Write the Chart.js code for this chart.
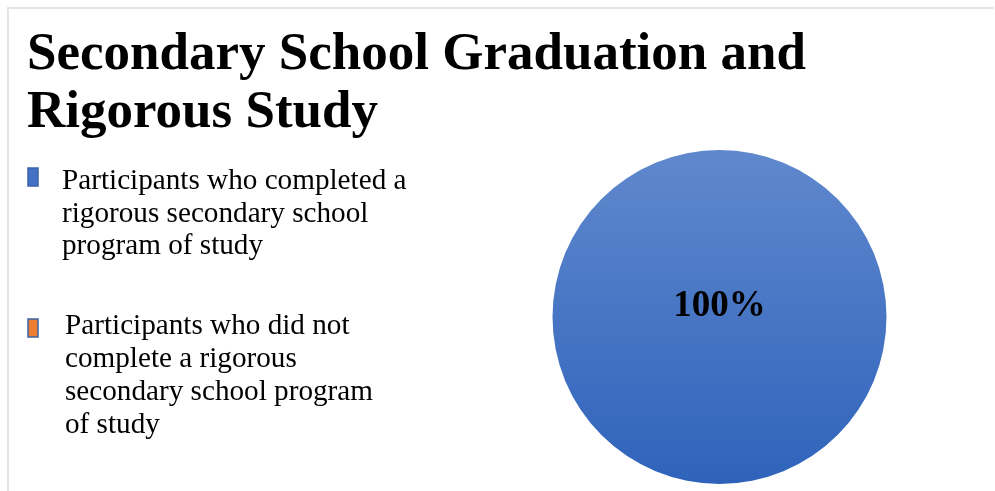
<!DOCTYPE html>
<html>
<head>
<meta charset="utf-8">
<title>Secondary School Graduation and Rigorous Study</title>
<script src="https://cdn.jsdelivr.net/npm/chart.js@4/dist/chart.umd.min.js"></script>
<style>
  html, body { margin: 0; padding: 0; background: #ffffff; }
  #wrap { position: relative; width: 995px; height: 491px; }
</style>
</head>
<body>
<div id="wrap"><canvas id="chart" width="995" height="491"></canvas></div>
<script>
// Chart content
const chartTitle = ['Secondary School Graduation and', 'Rigorous Study'];
const categories = [
  ['Participants who completed a', 'rigorous secondary school', 'program of study'],
  ['Participants who did not', 'complete a rigorous', 'secondary school program', 'of study']
];
const shares = [100, 0];
const sliceColors = ['#4472c4', '#ed7d31'];

const serif = '"Liberation Serif", "Times New Roman", serif';

// Frame, title and side legend drawn on the canvas around the pie
const decorations = {
  id: 'decorations',
  beforeDraw(chart) {
    const ctx = chart.ctx;
    ctx.save();
    ctx.fillStyle = '#ffffff';
    ctx.fillRect(0, 0, chart.width, chart.height);
    ctx.strokeStyle = '#e1e6eb';
    ctx.lineWidth = 2;
    ctx.beginPath();
    ctx.moveTo(8, chart.height);
    ctx.lineTo(8, 8);
    ctx.lineTo(994, 8);
    ctx.stroke();
    ctx.restore();
  },
  afterDraw(chart) {
    const ctx = chart.ctx;
    ctx.save();
    // title
    ctx.fillStyle = '#000000';
    ctx.textBaseline = 'alphabetic';
    ctx.textAlign = 'left';
    ctx.font = 'bold 53px ' + serif;
    chartTitle.forEach((line, i) => ctx.fillText(line, 27, 69 + i * 58));

    // legend: marker box plus wrapped label lines
    const ds = chart.data.datasets[0];
    const markerTops = [168, 319];
    const firstBaselines = [189, 334];
    const lineGaps = [32.5, 33];
    const textX = [62, 65];
    ctx.font = '29.2px ' + serif;
    chart.data.labels.forEach((lines, i) => {
      const top = markerTops[i];
      ctx.fillStyle = sliceColors[i];
      ctx.fillRect(28, top, 10, 18);
      ctx.strokeStyle = '#3a63a8';
      ctx.lineWidth = 1.5;
      ctx.strokeRect(28, top, 10, 18);
      ctx.fillStyle = '#000000';
      lines.forEach((t, j) => ctx.fillText(t, textX[i], firstBaselines[i] + j * lineGaps[i]));
    });

    // value label on the pie
    const arc = chart.getDatasetMeta(0).data[0];
    const total = ds.data.reduce((a, b) => a + b, 0);
    ctx.font = 'bold 37px ' + serif;
    ctx.textAlign = 'center';
    ctx.textBaseline = 'middle';
    ctx.fillText(Math.round(ds.data[0] / total * 100) + '%', arc.x, arc.y - 11);
    ctx.restore();
  }
};

function pieFill(context) {
  const area = context.chart.chartArea;
  if (!area) return sliceColors[context.dataIndex];
  if (context.dataIndex !== 0) return sliceColors[context.dataIndex];
  const g = context.chart.ctx.createLinearGradient(0, area.top, 0, area.bottom);
  g.addColorStop(0, '#6088cd');
  g.addColorStop(1, '#2f63bb');
  return g;
}

new Chart(document.getElementById('chart'), {
  type: 'pie',
  data: {
    labels: categories,
    datasets: [{
      data: shares,
      backgroundColor: pieFill,
      borderWidth: 0
    }]
  },
  options: {
    responsive: false,
    animation: false,
    layout: { padding: { left: 551, right: 107, top: 150, bottom: 7 } },
    plugins: {
      legend: { display: false },
      title: { display: false },
      tooltip: { enabled: false }
    }
  },
  plugins: [decorations]
});
</script>
</body>
</html>
